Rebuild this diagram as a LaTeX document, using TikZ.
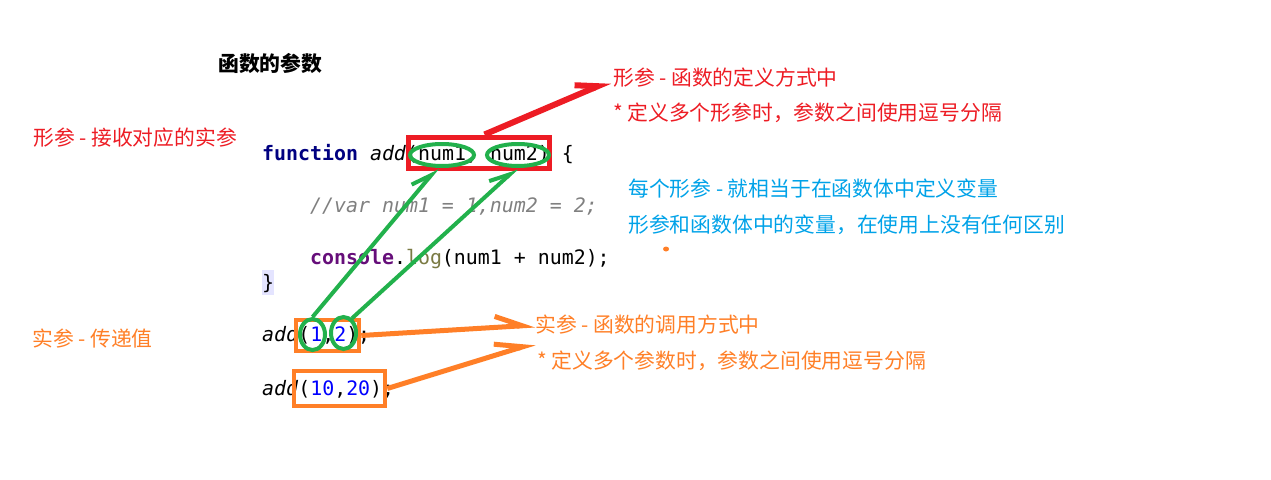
\documentclass[tikz,border=0pt]{standalone}
\usepackage{fontspec}
\usetikzlibrary{arrows.meta}
\usetikzlibrary{shapes.geometric}
\newfontfamily\cjk{Noto Sans CJK SC}
\newfontfamily\codefont{DejaVu Sans Mono}
\definecolor{paintred}{HTML}{ED1C24}
\definecolor{paintgreen}{HTML}{22B14C}
\definecolor{paintorange}{HTML}{FF7F27}
\definecolor{noteblue}{HTML}{00A2E8}
\definecolor{kwblue}{HTML}{000080}
\definecolor{conpurple}{HTML}{660E7A}
\definecolor{logolive}{HTML}{7A7A43}
\definecolor{numblue}{HTML}{0000FF}
\definecolor{bracebg}{HTML}{E4E4FF}
\begin{document}
\begin{tikzpicture}[x=1pt,y=-1pt]
\tikzstyle{codeStyle}=[anchor=base west, inner sep=0pt, font=\codefont\fontsize{19.9}{24}\selectfont]
\tikzstyle{noteStyle}=[anchor=west, inner sep=0pt, font=\cjk\fontsize{20.8}{25}\selectfont]
\tikzstyle{redBoxStyle}=[shape=rectangle, draw=paintred, line width=5pt, inner sep=0pt]
\tikzstyle{orangeBoxStyle}=[shape=rectangle, draw=paintorange, line width=4.5pt, inner sep=0pt]
\tikzstyle{greenRingStyle}=[shape=ellipse, draw=paintgreen, line width=4pt, inner sep=0pt]
\tikzstyle{redArrowStyle}=[draw=paintred, line width=6pt, -{Straight Barb[harpoon, length=21pt, width=20pt]}]
\tikzstyle{greenArrowStyle}=[draw=paintgreen, line width=4pt, -{Straight Barb[harpoon, length=20pt, width=18pt]}]
\tikzstyle{orangeArrowStyle}=[draw=paintorange, line width=5pt, -{Straight Barb[harpoon, length=27pt, width=22pt]}]
\useasboundingbox (0,0) rectangle (1271,479);
\fill[bracebg] (262,270) rectangle (274,295);
\node[anchor=west, inner sep=0pt, font=\cjk\bfseries\fontsize{20.8}{25}\selectfont] (title) at (218,63) {函数的参数};
\node[codeStyle] (lineFunc) at (262,160) {\textcolor{kwblue}{\bfseries function} \textit{add}(num1, num2) \{};
\node[codeStyle, text=gray] (lineComment) at (310,212) {\itshape //var num1 = 1,num2 = 2;};
\node[codeStyle] (lineLog) at (310,264) {\textcolor{conpurple}{\bfseries console}.\textcolor{logolive}{log}(num1 + num2);};
\node[codeStyle] (lineBrace) at (262,289) {\}};
\node[codeStyle] (lineCallOne) at (262,341) {\textit{add}(\textcolor{numblue}{1},\textcolor{numblue}{2});};
\node[codeStyle] (lineCallTwo) at (262,395) {\textit{add}(\textcolor{numblue}{10},\textcolor{numblue}{20});};
\node[noteStyle, text=paintred] (formalNote) at (613,78) {形参 - 函数的定义方式中};
\node[noteStyle, text=paintred] (formalRule) at (613,113) {* 定义多个形参时，参数之间使用逗号分隔};
\node[noteStyle, text=noteblue] (varNote) at (628,189) {每个形参 - 就相当于在函数体中定义变量};
\node[noteStyle, text=noteblue] (varRule) at (628,225) {形参和函数体中的变量，在使用上没有任何区别};
\node[noteStyle, text=paintred] (receiveNote) at (33,138) {形参 - 接收对应的实参};
\node[noteStyle, text=paintorange] (passNote) at (32,339) {实参 - 传递值};
\node[noteStyle, text=paintorange] (callNote) at (535,325) {实参 - 函数的调用方式中};
\node[noteStyle, text=paintorange] (callRule) at (537,361) {* 定义多个参数时，参数之间使用逗号分隔};
\node[redBoxStyle, minimum width=141, minimum height=31] (formalBox) at (478.5,152.5) {};
\node[orangeBoxStyle, minimum width=63, minimum height=31] (argBoxOne) at (327.5,335.5) {};
\node[orangeBoxStyle, minimum width=91, minimum height=35] (argBoxTwo) at (339.5,388.5) {};
\node[greenRingStyle, minimum width=64, minimum height=22] (paramOne) at (442,155) {};
\node[greenRingStyle, minimum width=62, minimum height=22] (paramTwo) at (518,155) {};
\node[greenRingStyle, minimum width=25, minimum height=31] (argOne) at (312.5,334.5) {};
\node[greenRingStyle, minimum width=25, minimum height=32] (argTwo) at (343.5,333) {};
\coordinate (callTip) at (535,343);
\draw[redArrowStyle] ([xshift=6pt]formalBox.north) -- ([xshift=-3pt,yshift=-3pt]formalNote.west);
\draw[greenArrowStyle] (argOne.north) -- (paramOne.250);
\draw[greenArrowStyle] (argTwo.60) -- (paramTwo.265);
\draw[orangeArrowStyle] (argBoxOne.east) -- (callNote.west);
\draw[orangeArrowStyle] (argBoxTwo.east) -- (callTip);
\fill[paintorange] (666,249) ellipse (3 and 2.5);
\end{tikzpicture}
\end{document}
